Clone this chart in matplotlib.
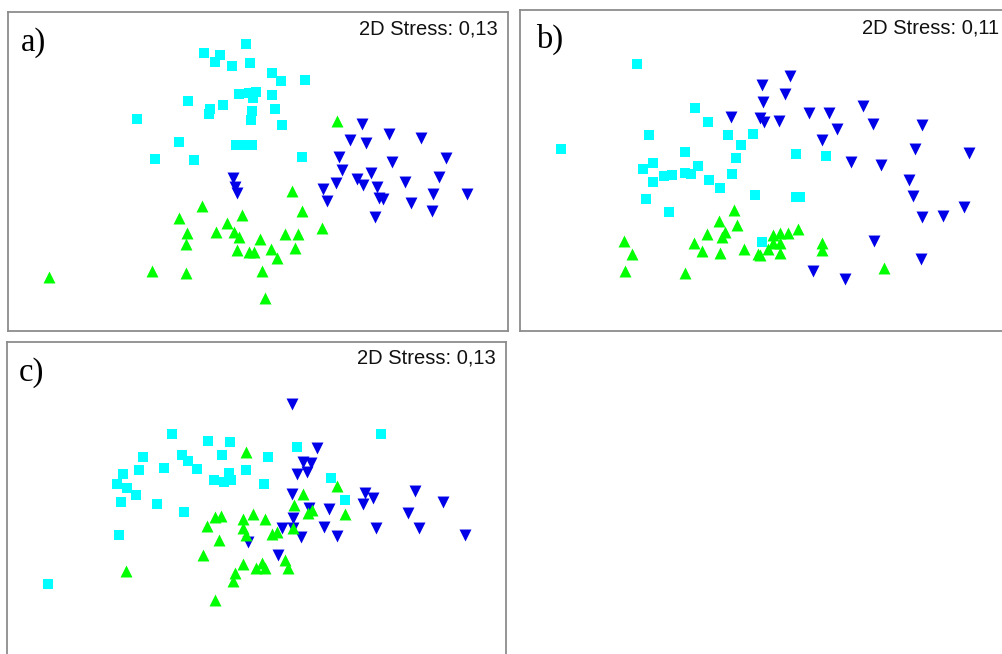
import matplotlib
matplotlib.use("Agg")
import matplotlib.pyplot as plt

# nMDS ordination coordinates (pixel-like units, y grows downwards)
a_cyan_x = [246, 204, 220, 215, 232, 250, 272, 281, 305, 239, 249, 256, 253, 272, 188,
            210, 209, 223, 252, 275, 251, 282, 179, 236, 245, 252, 194, 302, 137, 155]
a_cyan_y = [44, 53, 55, 62, 66, 63, 73, 81, 80, 94, 93, 92, 98, 95, 101,
            109, 114, 105, 111, 109, 120, 125, 142, 145, 145, 145, 160, 157, 119, 159]
a_blue_x = [233, 235, 237, 362, 350, 366, 389, 421, 339, 392, 446, 342, 357, 371,
            363, 377, 405, 439, 336, 323, 327, 379, 383, 411, 433, 467, 432, 375]
a_blue_y = [178, 187, 193, 124, 140, 143, 134, 138, 157, 162, 158, 170, 179, 173,
            185, 187, 182, 177, 183, 189, 201, 198, 199, 203, 194, 194, 211, 217]
a_green_x = [337, 292, 202, 179, 242, 302, 322, 227, 187, 216, 234, 239, 186, 260,
             285, 298, 237, 249, 254, 271, 277, 295, 152, 186, 262, 265, 49]
a_green_y = [121, 191, 206, 218, 215, 211, 228, 223, 233, 232, 232, 237, 244, 239,
             234, 234, 250, 252, 252, 249, 258, 248, 271, 273, 271, 298, 277]

b_cyan_x = [637, 695, 708, 649, 728, 753, 741, 685, 736, 796, 653, 643, 664, 672, 685,
            691, 698, 732, 653, 709, 720, 646, 755, 796, 800, 669, 762, 561, 826]
b_cyan_y = [64, 108, 122, 135, 135, 134, 145, 152, 158, 154, 163, 169, 176, 175, 173,
            174, 166, 174, 182, 180, 188, 199, 195, 197, 197, 212, 242, 149, 156]
b_blue_x = [790, 762, 785, 763, 731, 760, 764, 779, 809, 829, 863, 837, 873, 922,
            822, 915, 969, 851, 881, 909, 913, 922, 943, 964, 874, 921, 813, 845]
b_blue_y = [76, 85, 94, 102, 117, 118, 122, 121, 113, 113, 106, 129, 124, 125,
            140, 149, 153, 162, 165, 180, 196, 217, 216, 207, 241, 259, 271, 279]
b_green_x = [734, 719, 737, 707, 725, 722, 694, 702, 720, 744, 758, 760, 768, 773,
             780, 773, 780, 780, 788, 798, 822, 822, 624, 632, 625, 685, 884]
b_green_y = [210, 221, 225, 234, 232, 237, 243, 251, 253, 249, 254, 255, 249, 235,
             233, 243, 243, 253, 233, 229, 243, 250, 241, 254, 271, 273, 268]

c_cyan_x = [172, 208, 230, 143, 182, 188, 222, 268, 297, 123, 139, 164, 197, 229, 246,
            214, 224, 231, 117, 127, 136, 264, 121, 157, 184, 119, 48, 381, 331, 345]
c_cyan_y = [434, 441, 442, 457, 455, 461, 455, 457, 447, 474, 470, 468, 469, 473, 470,
            480, 482, 480, 484, 488, 495, 484, 502, 504, 512, 535, 584, 434, 478, 500]
c_blue_x = [292, 317, 303, 311, 307, 297, 292, 309, 329, 365, 373, 363, 415,
            443, 408, 376, 419, 465, 324, 337, 301, 293, 282, 293, 278, 248]
c_blue_y = [404, 448, 462, 463, 472, 474, 494, 508, 509, 493, 498, 504, 491,
            502, 513, 528, 528, 535, 527, 536, 537, 518, 528, 528, 555, 542]
c_green_x = [246, 215, 221, 207, 243, 253, 265, 243, 246, 219, 272, 277, 294, 293, 337,
             303, 308, 312, 345, 203, 243, 235, 233, 256, 262, 265, 285, 288, 126, 215]
c_green_y = [452, 517, 516, 526, 519, 514, 519, 528, 535, 540, 534, 532, 505, 528, 486,
             494, 513, 510, 514, 555, 564, 573, 581, 568, 563, 568, 560, 568, 571, 600]

labels = ["a)", "b)", "c)"]
stress = ["2D Stress: 0,13", "2D Stress: 0,11", "2D Stress: 0,13"]

W, H = 1003, 654
fig = plt.figure(figsize=(W / 100, H / 100), dpi=100)

# panel boxes in pixels: left, top, right, bottom
boxes = [(8, 12, 508, 331), (520, 10, 1006, 331), (7, 342, 506, 661)]
label_pos = [(21, 27), (536, 24), (19, 357)]
stress_pos = [(498, 19), (999, 18), (496, 349)]
series = [
    (a_cyan_x, a_cyan_y, a_blue_x, a_blue_y, a_green_x, a_green_y),
    (b_cyan_x, b_cyan_y, b_blue_x, b_blue_y, b_green_x, b_green_y),
    (c_cyan_x, c_cyan_y, c_blue_x, c_blue_y, c_green_x, c_green_y),
]

for i, (l, t, r, b) in enumerate(boxes):
    ax = fig.add_axes([l / W, 1 - b / H, (r - l) / W, (b - t) / H])
    ax.set_xlim(l, r)
    ax.set_ylim(b, t)
    ax.set_xticks([])
    ax.set_yticks([])
    for s in ax.spines.values():
        s.set_color("#8c8c8c")
        s.set_linewidth(1.3)
    cx, cy, bx, by, gx, gy = series[i]
    ax.scatter(cx, cy, marker="s", s=7 ** 2, color="#00ffff", linewidths=0)
    ax.scatter(bx, by, marker="v", s=8.6 ** 2, color="#0000e8", linewidths=0)
    ax.scatter(gx, gy, marker="^", s=8.6 ** 2, color="#00ff00", linewidths=0)
    ax.text(*label_pos[i], labels[i], fontsize=23.5, family="Liberation Serif",
            ha="left", va="top", color="black")
    ax.text(*stress_pos[i], stress[i], fontsize=14.5,
            family="Liberation Sans", ha="right", va="top", color="#111111")

fig.savefig("out.png", dpi=100)
